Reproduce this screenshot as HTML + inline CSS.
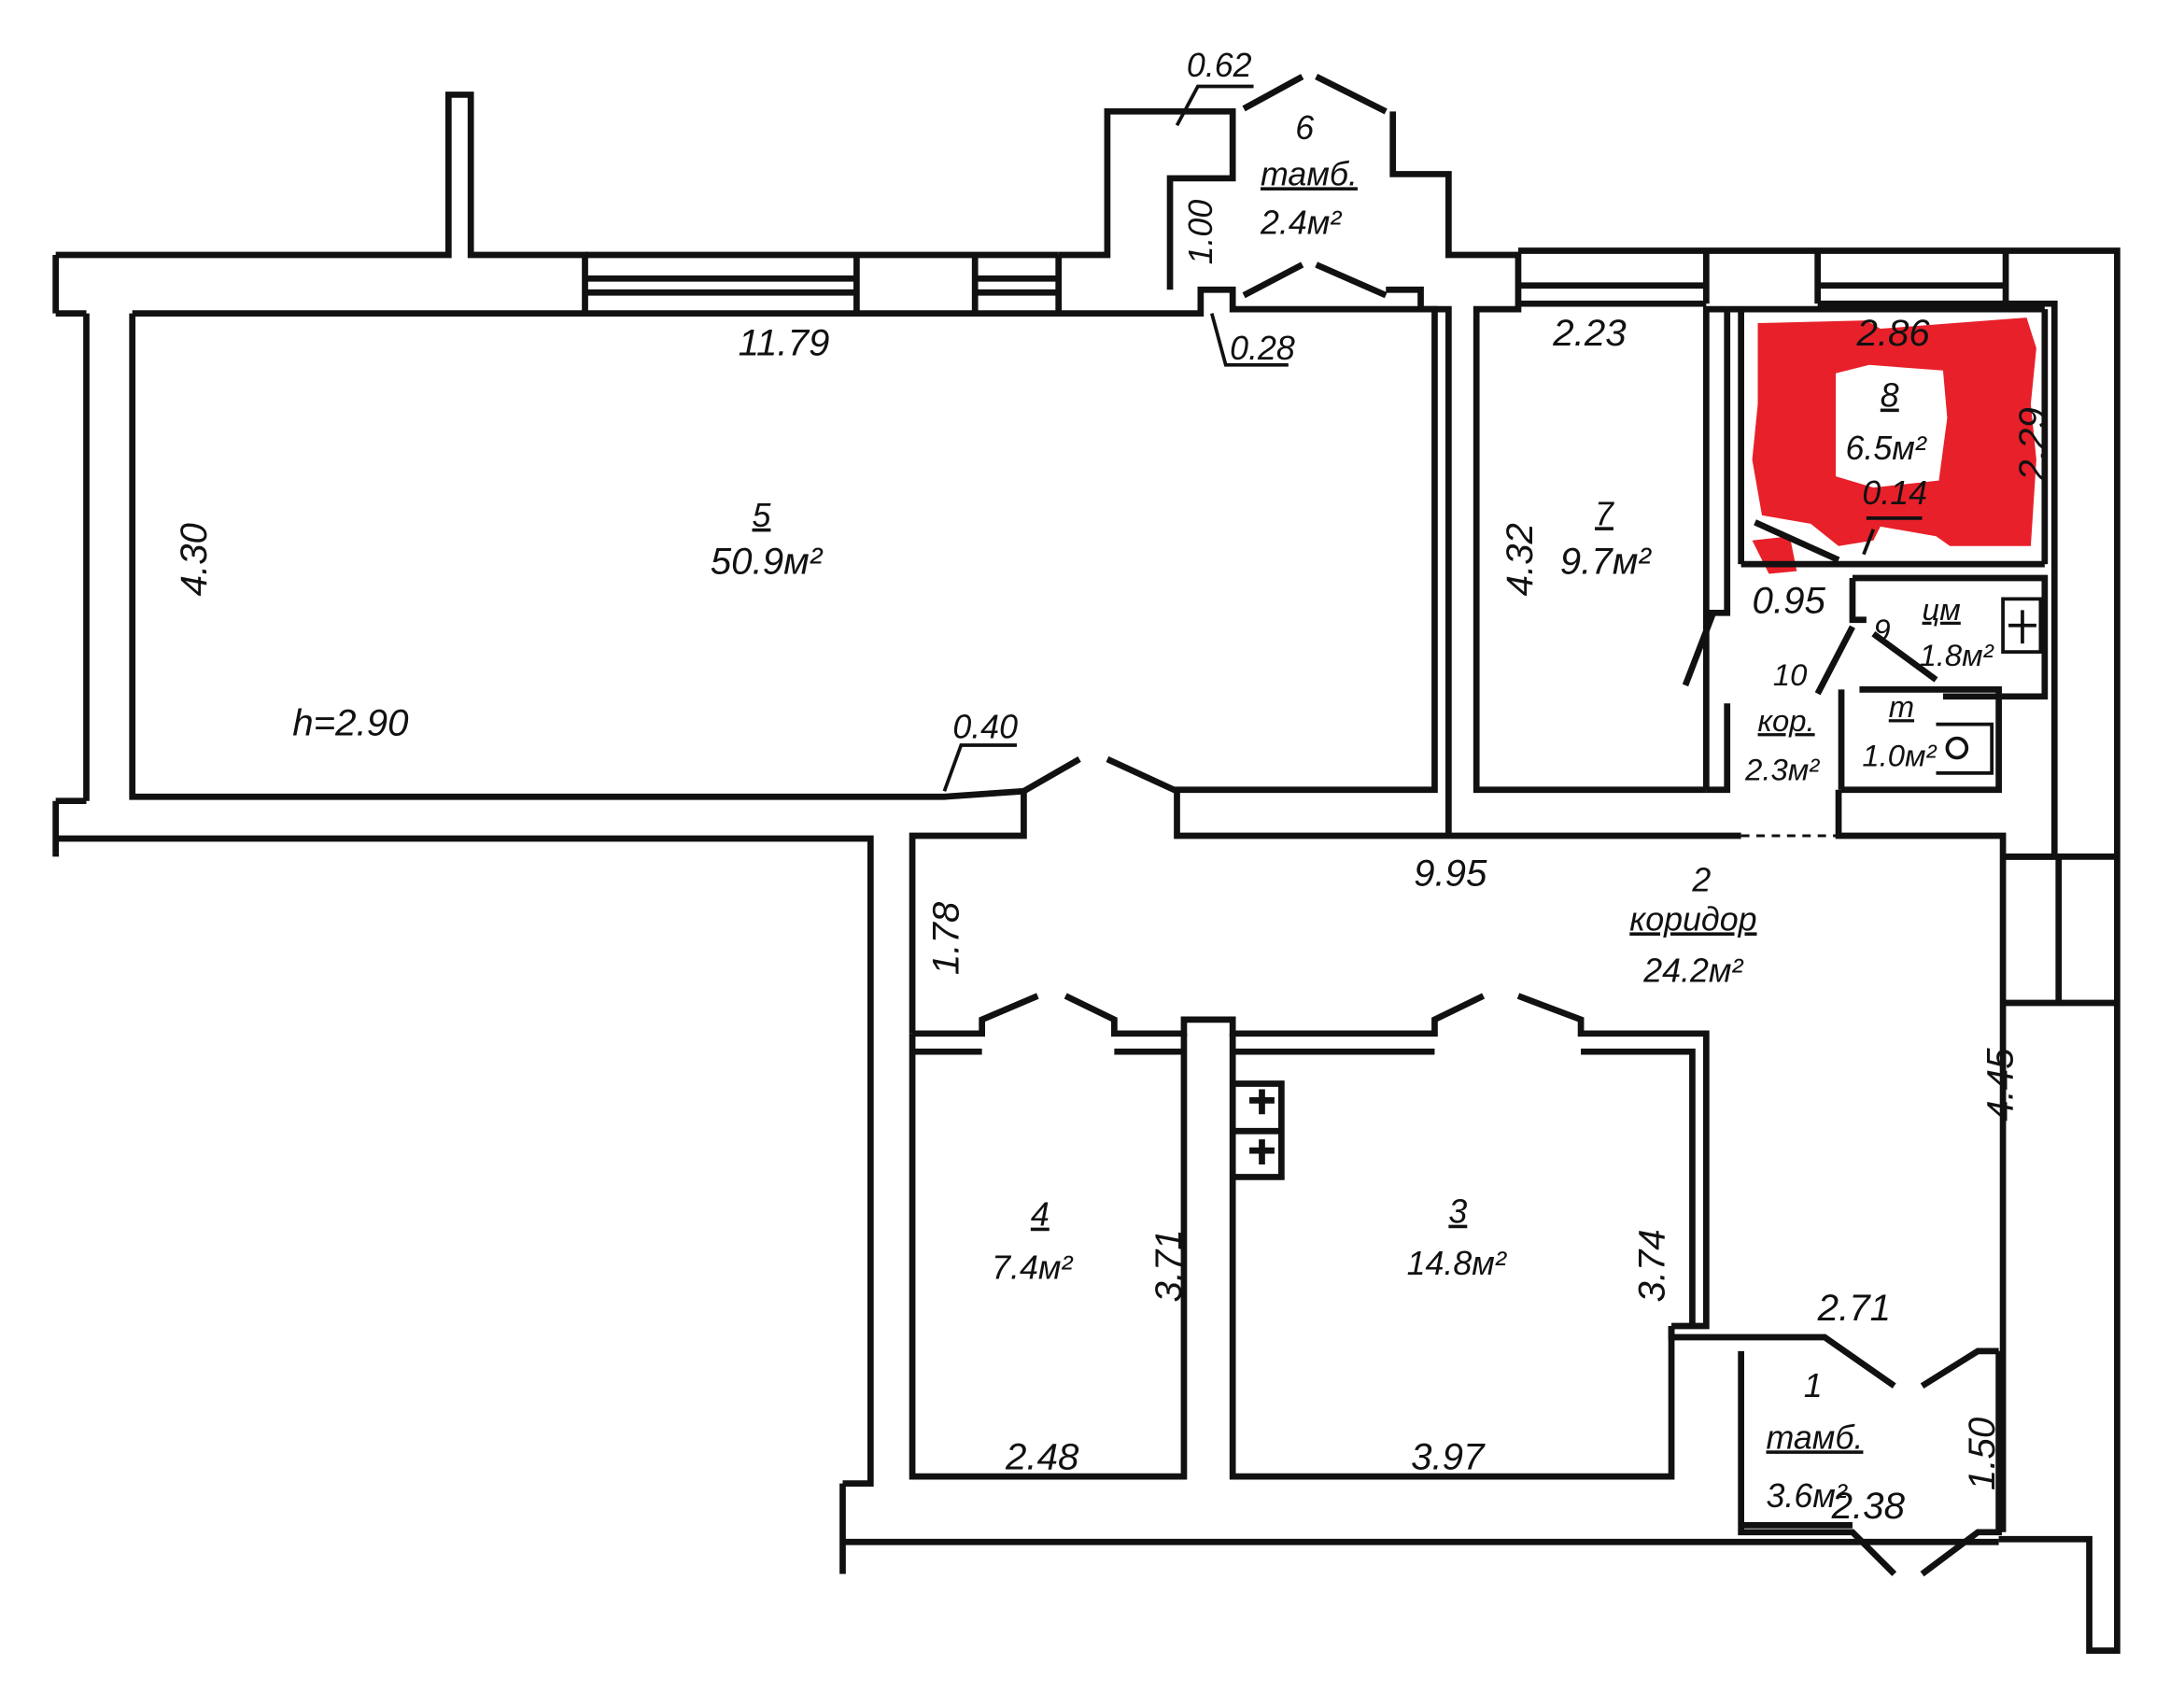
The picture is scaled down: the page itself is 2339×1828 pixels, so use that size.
<!DOCTYPE html>
<html><head><meta charset="utf-8"><style>
html,body{margin:0;padding:0;background:#fff}
svg{display:block}
text{font-family:"Liberation Sans",sans-serif;font-style:italic;fill:#111}
</style></head><body>
<svg width="2339" height="1828" viewBox="0 0 1568 1225.5" preserveAspectRatio="none" xmlns="http://www.w3.org/2000/svg">
<g fill="none" stroke="#111" stroke-width="4.5" stroke-linejoin="miter">
<!-- red blob -->
<path d="M1262,232 L1340,230 L1350,236 L1455,228 L1462,250 L1458,290 L1462,330 L1458,392 L1400,392 L1390,385 L1350,378 L1345,388 L1320,392 L1300,376 L1265,370 L1258,330 L1262,290 Z" fill="#e8202a" stroke="none"/>
<path d="M1258,388 L1285,385 L1290,410 L1270,412 Z" fill="#e8202a" stroke="none"/>
<path d="M1318,268 L1342,262 L1395,266 L1398,300 L1392,345 L1345,350 L1318,342 Z" fill="#fff" stroke="none"/>
<!-- Room 5 -->
<path d="M95,225 L95,572 L678,572 L735,568"/>
<path d="M95,225 L862,225 L862,208 L885,208 L885,222 L1030,222 L1030,567 L845,567 L845,600 L1250,600"/>
<path d="M40,183 L322,183 L322,68 L338,68 L338,183 L420,183 L420,225"/>
<path d="M62,225 L62,575"/>
<path d="M40,225 L62,225 M40,575 L62,575 M40,183 L40,225 M40,575 L40,615"/>
<path d="M40,602 L625,602 L625,1065 L605,1065"/>
<path d="M735,568 L735,600 L655,600 L655,742"/>
<!-- top windows -->
<path d="M420,183 L760,183 M420,200 L615,200 M420,210 L615,210 M615,183 L615,225 M700,183 L700,225 M700,200 L760,200 M700,210 L760,210 M760,183 L760,225"/>
<path d="M760,183 L795,183 L795,80 L885,80 L885,128 L840,128 L840,208"/>
<path d="M893,78 L935,55 M945,55 L995,80 M893,212 L935,190 M945,190 L995,212"/>
<path d="M1000,80 L1000,125 L1040,125 L1040,183 L1090,183 L1090,222 L1060,222 L1060,567 L1225,567"/>
<path d="M995,208 L1020,208 L1020,222 L1040,222 L1040,600 M1030,222 L1040,222"/>
<path d="M1090,180 L1440,180 M1090,205 L1225,205 M1090,218 L1225,218 M1225,180 L1225,218 M1305,180 L1305,218 M1305,205 L1440,205 M1305,218 L1440,218 M1440,180 L1520,180 L1520,1185 L1500,1185 L1500,1105 L1435,1105"/>
<path d="M1440,180 L1440,218 L1475,218 L1475,615 L1438,615"/>
<path d="M1225,220 L1225,567 M1240,220 L1240,440 L1225,440 M1240,505 L1240,567 L1225,567 M1225,222 L1250,222 M1250,222 L1250,405 M1250,405 L1468,405 M1250,222 L1468,222 M1468,222 L1468,405"/>
<path d="M1330,415 L1330,445 L1340,445 M1330,415 L1468,415 L1468,500 L1395,500 M1322,495 L1322,567 M1335,495 L1435,495 L1435,567 L1322,567"/>
<path d="M1230,440 L1210,492 M1260,375 L1320,402 M1330,450 L1305,498 M1345,455 L1390,488"/>
<path d="M1250,600 L1320,600" stroke-dasharray="6,5" stroke-width="2"/>
<path d="M1320,567 L1320,600 L1438,600 L1438,1100"/>
<path d="M1438,615 L1520,615 M1438,720 L1520,720 M1478,615 L1478,720"/>
<path d="M735,568 L775,545 M795,545 L845,568"/>
<!-- rooms 4 and 3 -->
<path d="M655,742 L705,742 L705,732 L745,715 M765,715 L800,732 L800,742 L850,742 L850,732 L885,732 L885,742 L1030,742 L1030,732 L1065,715 M1090,715 L1135,732 L1135,742 L1225,742 L1225,952 L1200,952"/>
<path d="M655,742 L655,1060 L850,1060 L850,742 M885,742 L885,1060 L1200,1060 L1200,952"/>
<path d="M655,755 L705,755 M800,755 L850,755 M885,755 L1030,755 M1135,755 L1215,755 L1215,952"/>
<path d="M605,1107 L1435,1107 M605,1065 L605,1130"/>
<path d="M1200,952 L1200,960 L1310,960 L1360,995 M1380,995 L1420,970 L1435,970"/>
<path d="M1250,970 L1250,1100 L1330,1100 L1360,1130 M1380,1130 L1420,1100 L1435,1100 L1435,970"/>
<path d="M1250,1095 L1330,1095"/>
<path d="M885,778 L920,778 L920,845 L885,845 M885,812 L920,812 M897,790 L915,790 M906,782 L906,800 M897,826 L915,826 M906,818 L906,836"/>
<path d="M1438,430 L1465,430 L1465,468 L1438,468 Z M1442,449 L1462,449 M1452,438 L1452,462" stroke-width="2.5"/>
<path d="M1390,520 L1430,520 L1430,555 L1390,555" stroke-width="2.5"/>
<circle cx="1405" cy="537" r="7" stroke-width="2.5"/>
<path d="M845,90 L860,62 L900,62 M870,225 L880,262 L925,262 M678,568 L690,535 L730,535 M1340,372 L1380,372" stroke-width="2.5"/>
<path d="M1338,398 L1345,380" stroke-width="2.5"/>
</g>
<g font-size="27">
<text x="530" y="255">11.79</text>
<text x="852" y="55" font-size="24">0.62</text>
<text x="883" y="258" font-size="24">0.28</text>
<text x="930" y="100" font-size="24">6</text>
<text x="905" y="133" font-size="24" text-decoration="underline">тамб.</text>
<text x="905" y="168" font-size="24">2.4м²</text>
<text x="870" y="190" font-size="24" transform="rotate(-90 870 190)">1.00</text>
<text x="540" y="378" font-size="24" text-decoration="underline">5</text>
<text x="510" y="412">50.9м²</text>
<text x="148" y="428" transform="rotate(-90 148 428)">4.30</text>
<text x="210" y="528">h=2.90</text>
<text x="684" y="530" font-size="24">0.40</text>
<text x="1115" y="248">2.23</text>
<text x="1100" y="428" transform="rotate(-90 1100 428)">4.32</text>
<text x="1145" y="377" font-size="24" text-decoration="underline">7</text>
<text x="1120" y="412">9.7м²</text>
<text x="1333" y="248">2.86</text>
<text x="1350" y="292" font-size="24" text-decoration="underline">8</text>
<text x="1325" y="330" font-size="24">6.5м²</text>
<text x="1468" y="345" transform="rotate(-90 1468 345)">2.29</text>
<text x="1337" y="362" font-size="24">0.14</text>
<text x="1258" y="440">0.95</text>
<text x="1345" y="460" font-size="22">9</text>
<text x="1380" y="445" font-size="22" text-decoration="underline">цм</text>
<text x="1378" y="478" font-size="22">1.8м²</text>
<text x="1273" y="492" font-size="22">10</text>
<text x="1262" y="525" font-size="22" text-decoration="underline">кор.</text>
<text x="1253" y="560" font-size="22">2.3м²</text>
<text x="1356" y="515" font-size="22" text-decoration="underline">т</text>
<text x="1337" y="550" font-size="22">1.0м²</text>
<text x="1015" y="636">9.95</text>
<text x="1215" y="640" font-size="24">2</text>
<text x="1170" y="668" font-size="24" text-decoration="underline">коридор</text>
<text x="1180" y="705" font-size="24">24.2м²</text>
<text x="688" y="700" transform="rotate(-90 688 700)">1.78</text>
<text x="1445" y="805" transform="rotate(-90 1445 805)">4.45</text>
<text x="740" y="880" font-size="24" text-decoration="underline">4</text>
<text x="712" y="918" font-size="24">7.4м²</text>
<text x="848" y="935" transform="rotate(-90 848 935)">3.71</text>
<text x="1040" y="878" font-size="24" text-decoration="underline">3</text>
<text x="1010" y="915" font-size="24">14.8м²</text>
<text x="1195" y="935" transform="rotate(-90 1195 935)">3.74</text>
<text x="722" y="1055">2.48</text>
<text x="1013" y="1055">3.97</text>
<text x="1305" y="948">2.71</text>
<text x="1295" y="1003" font-size="24">1</text>
<text x="1268" y="1040" font-size="24" text-decoration="underline">тамб.</text>
<text x="1268" y="1082" font-size="24">3.6м²</text>
<text x="1315" y="1090">2.38</text>
<text x="1432" y="1070" transform="rotate(-90 1432 1070)">1.50</text>
</g>
</svg>
</body></html>
